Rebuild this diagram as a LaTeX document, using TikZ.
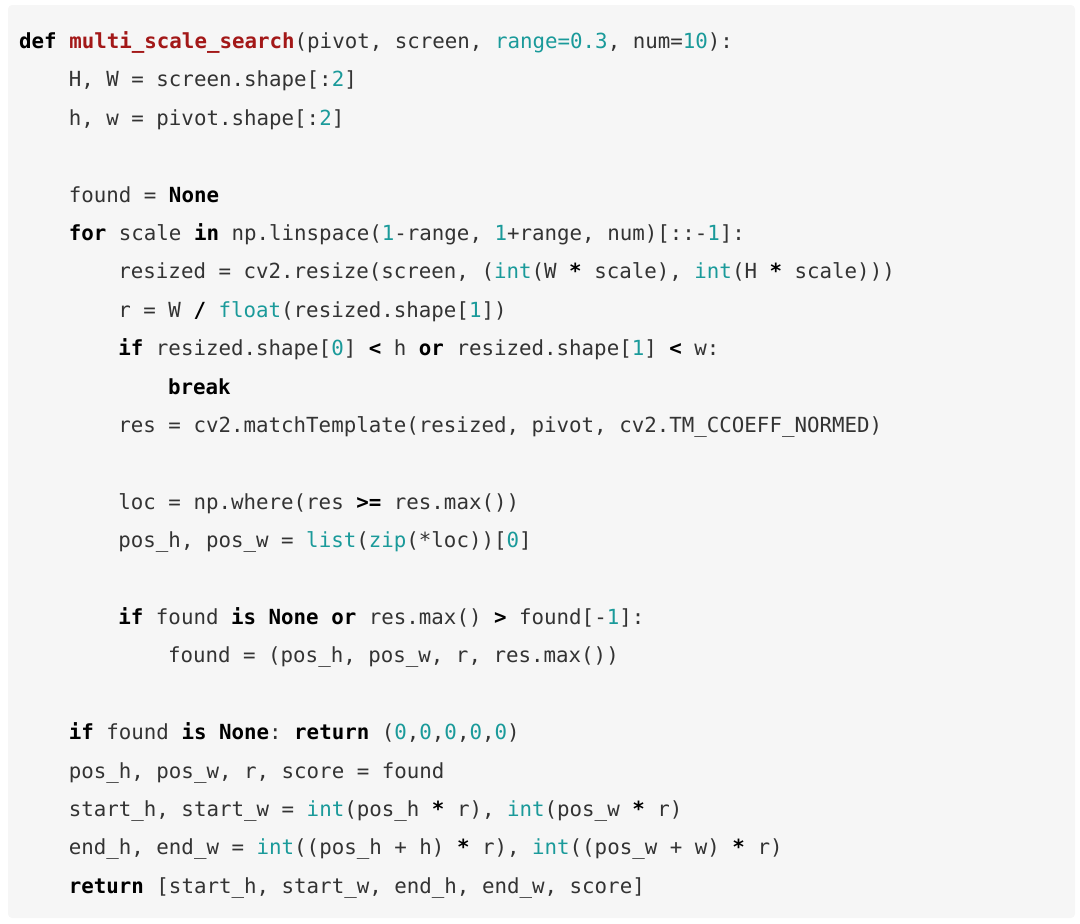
\documentclass[tikz,border=0pt]{standalone}
\usepackage{fontspec}
\setmonofont{DejaVu Sans Mono}
\usetikzlibrary{positioning}
\definecolor{codebg}{HTML}{F6F6F6}
\definecolor{codered}{HTML}{A31818}
\definecolor{codeteal}{HTML}{1A9A9A}
\definecolor{codetext}{HTML}{333333}
\newcommand{\kw}[1]{\textbf{\color{black}#1}}
\newcommand{\fn}[1]{\textbf{\color{codered}#1}}
\newcommand{\nm}[1]{{\color{codeteal}#1}}
\newcommand{\op}[1]{\textbf{\color{black}#1}}
\tikzset{
  codeline/.style={anchor=west,inner sep=0pt,text height=0.72em,text depth=0.22em,
    yshift=-5pt,font=\fontsize{20.8}{24}\ttfamily,text=codetext}
}
\begin{document}
\begin{tikzpicture}[x=1pt,y=-1pt]
  \useasboundingbox (0,0) rectangle (1080,924);
  % ---- Background panel ----
  \fill[codebg,rounded corners=4pt] (8,5) rectangle (1075,918);

  % ---- Code lines ----
  \node[codeline] (l0) at (19,41) {\kw{def} \fn{multi\_scale\_search}(pivot, screen, \nm{range=0.3}, num=\nm{10}):};
  \node[codeline] (l1) at (68.6,79.4) {H, W = screen.shape[:\nm{2}]};
  \node[codeline] (l2) at (68.6,117.8) {h, w = pivot.shape[:\nm{2}]};
  \node[codeline] (l4) at (68.6,194.6) {found = \kw{None}};
  \node[codeline] (l5) at (68.6,233) {\kw{for} scale \kw{in} np.linspace(\nm{1}-range, \nm{1}+range, num)[::-\nm{1}]:};
  \node[codeline] (l6) at (118.2,271.4) {resized = cv2.resize(screen, (\nm{int}(W \op{*} scale), \nm{int}(H \op{*} scale)))};
  \node[codeline] (l7) at (118.2,309.8) {r = W \op{/} \nm{float}(resized.shape[\nm{1}])};
  \node[codeline] (l8) at (118.2,348.2) {\kw{if} resized.shape[\nm{0}] \op{<} h \kw{or} resized.shape[\nm{1}] \op{<} w:};
  \node[codeline] (l9) at (167.8,386.6) {\kw{break}};
  \node[codeline] (l10) at (118.2,425) {res = cv2.matchTemplate(resized, pivot, cv2.TM\_CCOEFF\_NORMED)};
  \node[codeline] (l12) at (118.2,501.8) {loc = np.where(res \op{>=} res.max())};
  \node[codeline] (l13) at (118.2,540.2) {pos\_h, pos\_w = \nm{list}(\nm{zip}(*loc))[\nm{0}]};
  \node[codeline] (l15) at (118.2,617) {\kw{if} found \kw{is} \kw{None} \kw{or} res.max() \op{>} found[-\nm{1}]:};
  \node[codeline] (l16) at (167.8,655.4) {found = (pos\_h, pos\_w, r, res.max())};
  \node[codeline] (l18) at (68.6,732.2) {\kw{if} found \kw{is} \kw{None}: \kw{return} (\nm{0},\nm{0},\nm{0},\nm{0},\nm{0})};
  \node[codeline] (l19) at (68.6,770.6) {pos\_h, pos\_w, r, score = found};
  \node[codeline] (l20) at (68.6,809) {start\_h, start\_w = \nm{int}(pos\_h \op{*} r), \nm{int}(pos\_w \op{*} r)};
  \node[codeline] (l21) at (68.6,847.4) {end\_h, end\_w = \nm{int}((pos\_h + h) \op{*} r), \nm{int}((pos\_w + w) \op{*} r)};
  \node[codeline] (l22) at (68.6,885.8) {\kw{return} [start\_h, start\_w, end\_h, end\_w, score]};

\end{tikzpicture}
\end{document}
